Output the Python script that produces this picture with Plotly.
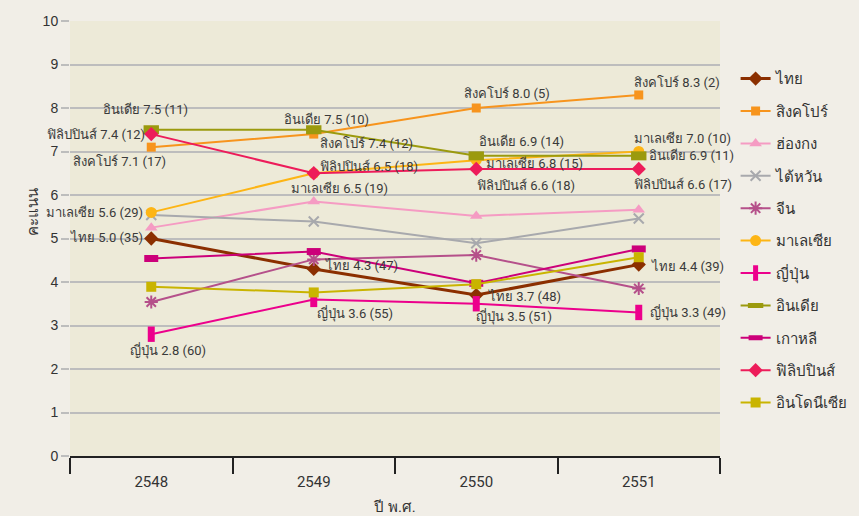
import plotly.graph_objects as go

# Survey scores by Buddhist-era year
years = ["2548", "2549", "2550", "2551"]

thai = [5.0, 4.3, 3.7, 4.4]
singapore = [7.1, 7.4, 8.0, 8.3]
hongkong = [5.25, 5.85, 5.52, 5.66]
taiwan = [5.54, 5.39, 4.89, 5.46]
china = [3.54, 4.52, 4.62, 3.85]
malaysia = [5.6, 6.5, 6.8, 7.0]
japan = [2.8, 3.6, 3.5, 3.3]
india = [7.5, 7.5, 6.9, 6.9]
korea = [4.54, 4.70, 3.97, 4.76]
philippines = [7.4, 6.5, 6.6, 6.6]
indonesia = [3.89, 3.76, 3.95, 4.57]

# Rank shown in brackets next to the labelled scores
thai_rank = [35, 47, 48, 39]
singapore_rank = [17, 12, 5, 2]
malaysia_rank = [29, 19, 15, 10]
japan_rank = [60, 55, 51, 49]
india_rank = [11, 10, 14, 11]
philippines_rank = [12, 18, 18, 17]

series = [
    # name, values, colour, symbol, size, line width, marker outline width
    ("ไทย", thai, "#8B2F00", "diamond", 11, 3, 0),
    ("สิงคโปร์", singapore, "#F7941D", "square", 9, 2, 0),
    ("ฮ่องกง", hongkong, "#F59BC3", "triangle-up", 11, 2, 0),
    ("ไต้หวัน", taiwan, "#A8A9AD", "x-thin-open", 10, 2, 2),
    ("จีน", china, "#B5508A", "asterisk-open", 11, 2, 2),
    ("มาเลเซีย", malaysia, "#FDB515", "circle", 11, 2, 0),
    ("ญี่ปุ่น", japan, "#EC008C", "line-ns-open", 11, 2, 7),
    ("อินเดีย", india, "#9B9A0E", "line-ew-open", 11, 2, 9),
    ("เกาหลี", korea, "#CC007A", "line-ew-open", 10, 2, 7),
    ("ฟิลิปปินส์", philippines, "#ED1C5A", "diamond", 11, 2, 0),
    ("อินโดนีเซีย", indonesia, "#C9B400", "square", 10, 2, 0),
]

fig = go.Figure()
for name, vals, col, sym, size, lw, mlw in series:
    fig.add_trace(go.Scatter(
        x=years, y=vals, name=name, mode="lines+markers",
        legendgroup=name,
        line=dict(color=col, width=lw),
        marker=dict(symbol=sym, size=size, color=col,
                    line=dict(color=col, width=mlw)),
    ))

# Label placement per year: (xanchor, xshift, yshift)
label_series = [
    ("ไทย", thai, thai_rank,
     [("right", -6, 1), ("left", 9, 3), ("left", 10, -1), ("left", 10, -2)]),
    ("สิงคโปร์", singapore, singapore_rank,
     [("center", -32, -14), ("left", 4, -9), ("center", 31, 15), ("left", -7, 12)]),
    ("มาเลเซีย", malaysia, malaysia_rank,
     [("right", -6, 0), ("center", 26, -15), ("left", 8, -3), ("left", -7, 13)]),
    ("ญี่ปุ่น", japan, japan_rank,
     [("center", 17, -16), ("left", 1, -14), ("left", -2, -13), ("left", 9, 0)]),
    ("อินเดีย", india, india_rank,
     [("center", -6, 20), ("center", 13, 10), ("left", 1, 14), ("left", 8, 0)]),
    ("ฟิลิปปินส์", philippines, philippines_rank,
     [("right", -4, 0), ("left", 4, 7), ("left", -1, -17), ("left", -7, -16)]),
]

annotations = []
for name, vals, ranks, places in label_series:
    for i, (v, r, (xa, xs, ys)) in enumerate(zip(vals, ranks, places)):
        # category axis: position by category index
        annotations.append(dict(
            x=i, y=v, xref="x", yref="y",
            text=f"{name} {v:.1f} ({r})",
            showarrow=False, xanchor=xa, yanchor="middle",
            xshift=xs, yshift=ys,
            font=dict(size=13, color="#3a3a3a", family="Roboto, sans-serif"),
        ))

# y-axis title, set a little closer to the tick labels
annotations.append(dict(
    x=-0.057, y=0.561, xref="paper", yref="paper",
    text="คะแนน", textangle=-90, showarrow=False,
    xanchor="center", yanchor="middle",
    font=dict(size=15, color="#333333", family="Roboto, sans-serif"),
))

fig.update_layout(
    width=859, height=516,
    margin=dict(l=70, r=139, t=21, b=60, autoexpand=False),
    paper_bgcolor="#F1EEE7",
    plot_bgcolor="#EDEAD8",
    font=dict(family="Roboto, sans-serif", color="#333333"),
    annotations=annotations,
    showlegend=True,
    legend=dict(
        x=1.024, y=0.905, xanchor="left", yanchor="top",
        bgcolor="rgba(0,0,0,0)",
        font=dict(size=15, color="#333333"),
        traceorder="grouped", tracegroupgap=9.9,
    ),
)

fig.update_xaxes(
    type="category", range=[-0.5, 3.5],
    tickson="boundaries", ticks="outside", ticklen=16, tickwidth=2,
    tickcolor="#222222", showline=True, linecolor="#222222", linewidth=2,
    showgrid=False, zeroline=False, ticklabelstandoff=11,
    tickfont=dict(size=15, color="#333333"),
    title=dict(text="ปี พ.ศ.", font=dict(size=15, color="#333333"), standoff=14),
)

fig.update_yaxes(
    range=[0, 10], dtick=1,
    showgrid=True, gridcolor="#BDBDBD", gridwidth=2,
    ticks="outside", ticklen=8, tickwidth=2, tickcolor="#BDBDBD",
    zeroline=False, showline=False,
    tickfont=dict(size=14, color="#333333", family="Liberation Sans, Arial, sans-serif"),
)

fig.write_html("out.html")
